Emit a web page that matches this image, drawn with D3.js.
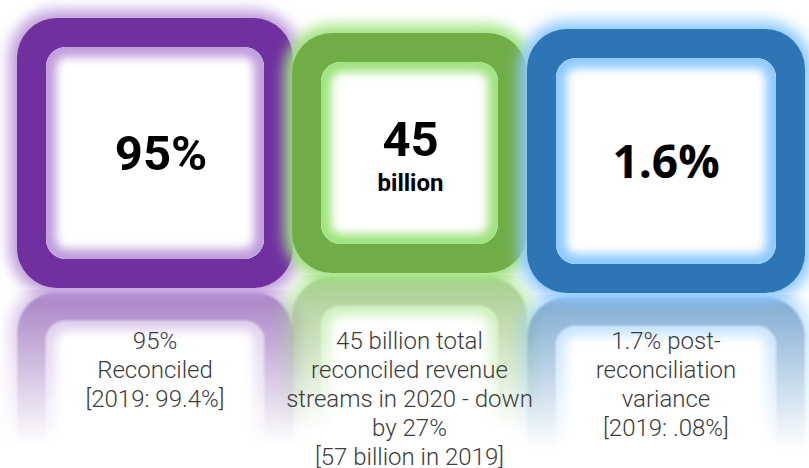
<!DOCTYPE html>
<html>
<head>
<meta charset="utf-8">
<script src="https://d3js.org/d3.v7.min.js"></script>
<style>
  body { margin: 0; background: #fff; }
  svg { display: block; }
</style>
</head>
<body>
<div id="chart"></div>
<script>
// headline figures shown in each box
var values = ["95%", "45", "1.6%"];
var units = ["", "billion", ""];
// caption lines under each box (in the reflection)
var captions = [
  ["95%", "Reconciled", "[2019: 99.4%]"],
  ["45 billion total", "reconciled revenue", "streams in 2020 - down", "by 27%", "[57 billion in 2019]"],
  ["1.7% post-", "reconciliation", "variance", "[2019: .08%]"]
];

// styling / layout, kept apart from the values
var colors = ["#7030a0", "#70ad47", "#2e75b6"];
var glows = ["#c09ddb", "#9fe27e", "#8fc9ff"];
var boxes = [
  {x0: 17, y0: 18, x1: 293, y1: 288, dx: 6, font: "Roboto"},
  {x0: 292, y0: 33, x1: 527, y1: 273, dx: 1, font: "Roboto"},
  {x0: 527, y0: 29, x1: 805, y1: 293, dx: 0, font: "'Open Sans'"}
];
var border = 29, rOuter = 40, rInner = 20;

var W = 809, H = 468;
var svg = d3.select("#chart").append("svg")
    .attr("width", W)
    .attr("height", H);

var defs = svg.append("defs");

defs.append("filter").attr("id", "blurOuter")
    .attr("x", "-25%").attr("y", "-25%").attr("width", "150%").attr("height", "150%")
  .append("feGaussianBlur").attr("stdDeviation", 7);
defs.append("filter").attr("id", "blurInner")
    .attr("x", "-20%").attr("y", "-20%").attr("width", "140%").attr("height", "140%")
  .append("feGaussianBlur").attr("stdDeviation", 5);
defs.append("filter").attr("id", "blurRefl")
    .attr("x", "-10%").attr("y", "-10%").attr("width", "120%").attr("height", "120%")
  .append("feGaussianBlur").attr("stdDeviation", 1.2);

function rr(p, x0, y0, x1, y1, r) {
  p.moveTo(x0 + r, y0);
  p.lineTo(x1 - r, y0);
  p.arcTo(x1, y0, x1, y0 + r, r);
  p.lineTo(x1, y1 - r);
  p.arcTo(x1, y1, x1 - r, y1, r);
  p.lineTo(x0 + r, y1);
  p.arcTo(x0, y1, x0, y1 - r, r);
  p.lineTo(x0, y0 + r);
  p.arcTo(x0, y0, x0 + r, y0, r);
  p.closePath();
  return p;
}

function drawBox(g, b, i, tag) {
  var ix0 = b.x0 + border, iy0 = b.y0 + border, ix1 = b.x1 - border, iy1 = b.y1 - border;
  var cid = "clip" + tag + i;
  defs.append("clipPath").attr("id", cid)
    .append("path").attr("d", rr(d3.path(), ix0, iy0, ix1, iy1, rInner).toString());

  // outer glow
  g.append("path")
    .attr("d", rr(d3.path(), b.x0 - 8, b.y0 - 8, b.x1 + 8, b.y1 + 8, rOuter + 8).toString())
    .attr("fill", glows[i])
    .attr("filter", "url(#blurOuter)");

  // the ring
  var ring = rr(d3.path(), b.x0, b.y0, b.x1, b.y1, rOuter);
  rr(ring, ix0, iy0, ix1, iy1, rInner);
  g.append("path")
    .attr("d", ring.toString())
    .attr("fill", colors[i])
    .attr("fill-rule", "evenodd");

  // white centre with soft inner glow
  var inner = g.append("g").attr("clip-path", "url(#" + cid + ")");
  inner.append("rect")
    .attr("x", ix0).attr("y", iy0)
    .attr("width", ix1 - ix0).attr("height", iy1 - iy0)
    .attr("fill", "#fff");
  inner.append("path")
    .attr("d", rr(d3.path(), ix0, iy0, ix1, iy1, rInner).toString())
    .attr("fill", "none")
    .attr("stroke", glows[i])
    .attr("stroke-width", 20)
    .attr("filter", "url(#blurInner)");
}

// reflections first, underneath everything
boxes.forEach(function(b, i) {
  var axis = b.y1 + 2;
  var gid = "fade" + i;
  var grad = defs.append("linearGradient").attr("id", gid)
      .attr("gradientUnits", "userSpaceOnUse")
      .attr("x1", 0).attr("y1", axis).attr("x2", 0).attr("y2", axis + 155);
  grad.append("stop").attr("offset", 0).attr("stop-color", "#fff").attr("stop-opacity", 0.62);
  grad.append("stop").attr("offset", 1).attr("stop-color", "#fff").attr("stop-opacity", 0);

  var mask = defs.append("mask").attr("id", "mask" + i)
      .attr("maskUnits", "userSpaceOnUse")
      .attr("x", 0).attr("y", 0).attr("width", W).attr("height", H);
  mask.append("rect")
      .attr("x", 0).attr("y", axis).attr("width", W).attr("height", H - axis)
      .attr("fill", "url(#" + gid + ")");

  var outer = svg.append("g").attr("mask", "url(#mask" + i + ")");
  var mirror = outer.append("g")
      .attr("filter", "url(#blurRefl)")
      .append("g")
      .attr("transform", "translate(0," + (2 * axis) + ") scale(1,-1)");
  drawBox(mirror, b, i, "r");
});

// the boxes themselves
boxes.forEach(function(b, i) {
  drawBox(svg.append("g"), b, i, "b");
});

// headline numbers
boxes.forEach(function(b, i) {
  var cx = (b.x0 + b.x1) / 2 + b.dx;
  var cy = (b.y0 + b.y1) / 2;
  var hasUnit = units[i] !== "";
  svg.append("text")
    .attr("x", cx)
    .attr("y", hasUnit ? cy + 3 : cy + 17)
    .attr("text-anchor", "middle")
    .style("font-family", b.font + ", sans-serif")
    .style("font-weight", 700)
    .style("font-size", i === 2 ? "46px" : "49px")
    .attr("fill", "#000")
    .text(values[i]);
  if (hasUnit) {
    svg.append("text")
      .attr("x", cx)
      .attr("y", cy + 38)
      .attr("text-anchor", "middle")
      .style("font-family", b.font + ", sans-serif")
      .style("font-weight", 700)
      .style("font-size", "24px")
      .attr("fill", "#000")
      .text(units[i]);
  }
});

// captions
boxes.forEach(function(b, i) {
  var cx = (b.x0 + b.x1) / 2;
  svg.append("text")
    .attr("text-anchor", "middle")
    .style("font-family", "Roboto, sans-serif")
    .style("font-weight", 300)
    .style("font-size", "24px")
    .attr("fill", "#3c3c3c")
    .selectAll("tspan")
    .data(captions[i])
    .join("tspan")
      .attr("x", cx)
      .attr("y", function(d, k) { return 349 + k * 29; })
      .text(function(d) { return d; });
});
</script>
</body>
</html>
